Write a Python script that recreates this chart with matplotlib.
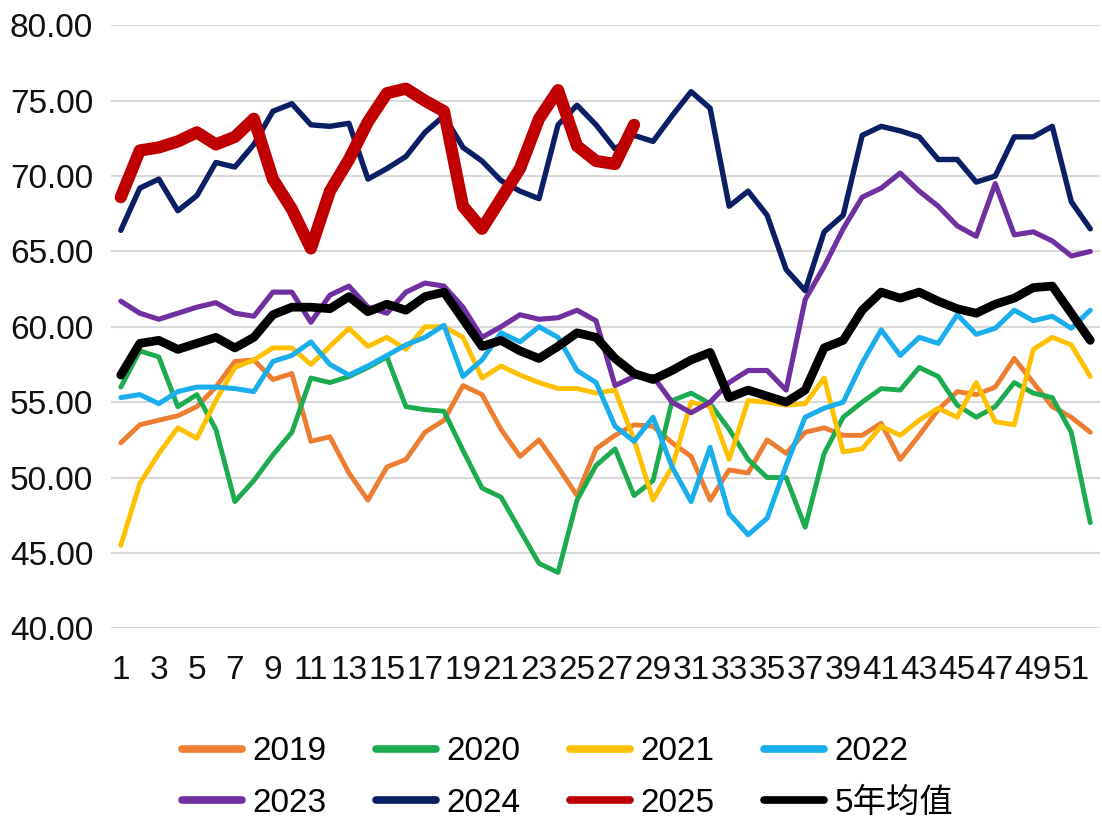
import matplotlib
matplotlib.use("Agg")
import matplotlib.pyplot as plt
import numpy as np

plt.rcParams['font.family'] = ['Liberation Sans', 'Noto Sans CJK SC']

weeks = np.arange(1, 53)

# datos
y2019 = [52.3, 53.5, 53.8, 54.1, 54.7, 56.0, 57.7, 57.8, 56.5, 56.9, 52.4, 52.7, 50.3, 48.5,
         50.7, 51.2, 53.0, 53.8, 56.1, 55.5, 53.2, 51.4, 52.5, 50.7, 48.8, 51.9, 52.8, 53.5,
         53.4, 52.3, 51.4, 48.5, 50.5, 50.3, 52.5, 51.6, 53.0, 53.3, 52.8, 52.8, 53.6, 51.2,
         52.8, 54.5, 55.7, 55.5, 56.0, 57.9, 56.3, 54.7, 54.0, 53.0]
y2020 = [56.0, 58.4, 58.0, 54.7, 55.5, 53.2, 48.4, 49.8, 51.5, 53.0, 56.6, 56.3, 56.7, 57.3,
         58.0, 54.7, 54.5, 54.4, 51.8, 49.3, 48.7, 46.5, 44.3, 43.7, 48.5, 50.8, 51.9, 48.8,
         49.8, 55.1, 55.6, 54.9, 53.2, 51.2, 50.0, 50.0, 46.7, 51.6, 54.0, 55.0, 55.9, 55.8,
         57.3, 56.7, 54.8, 54.0, 54.7, 56.3, 55.6, 55.3, 53.0, 47.0]
y2021 = [45.5, 49.6, 51.6, 53.3, 52.6, 55.1, 57.3, 57.8, 58.6, 58.6, 57.5, 58.7, 59.9, 58.7,
         59.3, 58.5, 60.0, 60.0, 59.3, 56.6, 57.4, 56.8, 56.3, 55.9, 55.9, 55.6, 55.8, 52.5,
         48.5, 50.7, 55.0, 54.7, 51.2, 55.1, 55.0, 54.8, 54.9, 56.6, 51.7, 51.9, 53.4, 52.8,
         53.8, 54.6, 54.0, 56.3, 53.7, 53.5, 58.5, 59.3, 58.8, 56.7]
y2022 = [55.3, 55.5, 54.9, 55.7, 56.0, 56.0, 55.9, 55.7, 57.7, 58.1, 59.0, 57.5, 56.8, 57.4,
         58.1, 58.8, 59.3, 60.1, 56.7, 57.8, 59.6, 59.0, 60.0, 59.3, 57.1, 56.3, 53.4, 52.4,
         54.0, 50.7, 48.4, 52.0, 47.6, 46.2, 47.3, 50.8, 54.0, 54.6, 55.0, 57.6, 59.8, 58.1,
         59.3, 58.9, 60.8, 59.5, 59.9, 61.1, 60.4, 60.7, 59.9, 61.1]
y2023 = [61.7, 60.9, 60.5, 60.9, 61.3, 61.6, 60.9, 60.7, 62.3, 62.3, 60.3, 62.1, 62.7, 61.3,
         60.9, 62.3, 62.9, 62.7, 61.3, 59.3, 60.0, 60.8, 60.5, 60.6, 61.1, 60.4, 56.1, 56.7,
         56.7, 55.0, 54.3, 55.0, 56.3, 57.1, 57.1, 55.8, 61.8, 64.0, 66.5, 68.6, 69.2, 70.2,
         69.0, 68.0, 66.7, 66.0, 69.5, 66.1, 66.3, 65.7, 64.7, 65.0]
y2024 = [66.4, 69.2, 69.8, 67.7, 68.7, 70.9, 70.6, 72.1, 74.3, 74.8, 73.4, 73.3, 73.5, 69.8,
         70.5, 71.3, 72.9, 74.0, 71.9, 71.0, 69.7, 69.0, 68.5, 73.4, 74.7, 73.4, 71.8, 72.7,
         72.3, 74.0, 75.6, 74.5, 68.0, 69.0, 67.4, 63.8, 62.4, 66.3, 67.4, 72.7, 73.3, 73.0,
         72.6, 71.1, 71.1, 69.6, 70.0, 72.6, 72.6, 73.3, 68.3, 66.5]
y2025 = [68.6, 71.7, 71.9, 72.3, 72.9, 72.1, 72.6, 73.8, 69.8, 67.8, 65.2, 69.0, 71.1, 73.6,
         75.5, 75.8, 75.0, 74.3, 68.0, 66.5, 68.5, 70.5, 73.8, 75.7, 72.0, 71.0, 70.8, 73.4]
avg5 = [56.8, 58.9, 59.1, 58.5, 58.9, 59.3, 58.6, 59.3, 60.8, 61.3, 61.3, 61.2, 62.0, 61.0,
        61.5, 61.1, 62.0, 62.3, 60.5, 58.7, 59.1, 58.4, 57.9, 58.7, 59.6, 59.3, 57.9, 56.9,
        56.5, 57.1, 57.8, 58.3, 55.3, 55.8, 55.4, 55.0, 55.8, 58.6, 59.1, 61.1, 62.3, 61.9,
        62.3, 61.7, 61.2, 60.9, 61.5, 61.9, 62.6, 62.7, 60.9, 59.1]

series = [("2019", y2019, "#ED7D31", 3.5),
          ("2020", y2020, "#1CAB4E", 3.5),
          ("2021", y2021, "#FFC000", 3.5),
          ("2022", y2022, "#1AAEEC", 3.6),
          ("2023", y2023, "#7030A0", 3.7),
          ("2024", y2024, "#0B1F65", 3.9),
          ("2025", y2025, "#C00000", 8.8),
          ("5年均值", avg5, "#000000", 6.3)]

fig = plt.figure(figsize=(11.02, 8.18), dpi=100)
ax = fig.add_axes([0.101, 0.232, 0.897, 0.737])

lineas = []
for nombre, valores, color, ancho in series:
    l, = ax.plot(weeks[:len(valores)], valores, color=color, lw=ancho, label=nombre,
                 solid_joinstyle='round', solid_capstyle='round')
    lineas.append(l)

ax.set_xlim(0.5, 52.5)
ax.set_ylim(40, 80)
ax.set_yticks(np.arange(40, 81, 5))
ax.set_yticklabels(["%.2f" % v for v in np.arange(40, 81, 5)])
ax.set_xticks(np.arange(1, 53, 2))
ax.set_xticklabels([str(w) for w in range(1, 53, 2)])
ax.grid(axis='y', color='#D9D9D9', lw=1.5)
ax.set_axisbelow(True)
for s in ax.spines.values():
    s.set_visible(False)
ax.tick_params(axis='both', length=0, labelsize=24, colors='#111111')
ax.tick_params(axis='y', pad=13)
ax.tick_params(axis='x', pad=19)

# orden por filas: la leyenda de matplotlib llena por columnas
orden = [0, 4, 1, 5, 2, 6, 3, 7]
leg = fig.legend([lineas[i] for i in orden], [series[i][0] for i in orden],
                 loc='upper center', bbox_to_anchor=(0.515, 0.100), ncol=4, frameon=False,
                 fontsize=24, handlelength=1.8, handletextpad=0.3, columnspacing=1.5,
                 labelspacing=0.62, borderpad=0, borderaxespad=0)
for linea in leg.get_lines():
    linea.set_linewidth(5.5)

plt.savefig("out.png", dpi=100)
